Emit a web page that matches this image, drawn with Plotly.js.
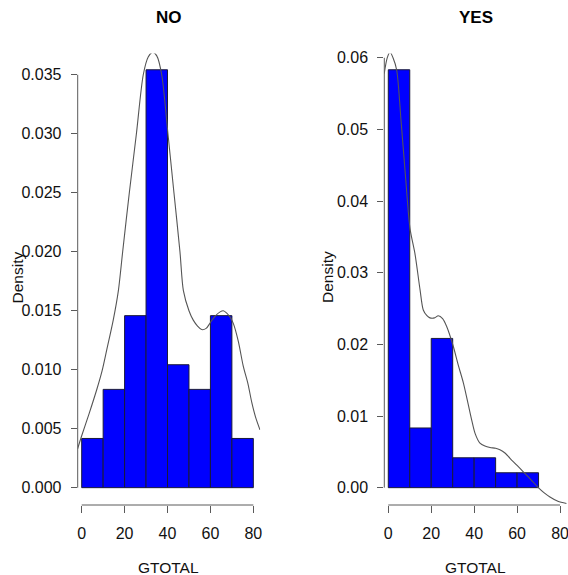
<!DOCTYPE html>
<html>
<head>
<meta charset="utf-8">
<script src="https://cdn.plot.ly/plotly-3.0.1.min.js"></script>
<style>html,body{margin:0;padding:0;background:#fff;}#chart{width:568px;height:575px;}</style>
</head>
<body>
<div id="chart"></div>
<script>
// ---- data ----
const binEdgesNO  = [0, 10, 20, 30, 40, 50, 60, 70, 80];
const binEdgesYES = [0, 10, 20, 30, 40, 50, 60, 70];
const densityNO  = [0.00417, 0.00833, 0.01458, 0.03542, 0.01042, 0.00833, 0.01458, 0.00417];
const densityYES = [0.05833, 0.00833, 0.02083, 0.00417, 0.00417, 0.00208, 0.00208];

const kdeNOx = [-1.9, 0, 3.5, 7, 9.5, 11.7, 14.7, 17.1, 19.1, 22.2, 25.5, 28.7, 31, 33, 35, 37.3, 40.2, 43, 45.8, 47.4, 50, 52, 54, 55.9, 58, 60, 62, 64.5, 66, 67.6, 69, 70.7, 73, 75.3, 77.5, 79.3, 81, 83.1];
const kdeNOy = [0.0033, 0.0044, 0.0063, 0.0083, 0.0099, 0.0117, 0.0142, 0.0167, 0.0200, 0.0250, 0.0300, 0.0350, 0.0365, 0.0369, 0.0366, 0.0350, 0.0300, 0.0250, 0.0200, 0.0167, 0.0150, 0.0142, 0.0137, 0.0134, 0.0135, 0.0140, 0.0145, 0.0149, 0.0150, 0.0148, 0.0145, 0.0139, 0.0124, 0.0103, 0.0088, 0.0072, 0.0060, 0.0049];

const kdeYESx = [-1.9, -0.5, 0.8, 2.2, 3.9, 6, 8, 10.1, 12.4, 14.8, 16.3, 18, 19.4, 21.5, 23.3, 25.3, 27.2, 30.3, 32.5, 35, 38.8, 40.5, 42.7, 45, 47.4, 50, 52, 54.5, 56.7, 60, 62.9, 66.5, 69.9, 72.5, 75.3, 79, 83];
const kdeYESy = [0.0578, 0.0600, 0.0608, 0.0600, 0.0583, 0.0510, 0.0435, 0.0362, 0.0327, 0.0276, 0.0248, 0.0240, 0.0237, 0.0237, 0.0240, 0.0236, 0.0225, 0.0197, 0.0172, 0.0146, 0.0095, 0.0075, 0.0062, 0.0058, 0.0056, 0.0055, 0.0053, 0.0048, 0.0041, 0.0031, 0.0022, 0.0011, 0.0000, -0.0007, -0.0013, -0.0019, -0.0022];

const xTicks = [0, 20, 40, 60, 80];
const yTicksNO  = [0, 0.005, 0.010, 0.015, 0.020, 0.025, 0.030, 0.035];
const yTicksYES = [0, 0.01, 0.02, 0.03, 0.04, 0.05, 0.06];
const panelTitles = ['NO', 'YES'];
const xTitle = 'GTOTAL';
const yTitle = 'Density';

// ---- build ----
function midsOf(e) { return e.slice(0, -1).map((v, i) => (v + e[i + 1]) / 2); }
function widthsOf(e) { return e.slice(0, -1).map((v, i) => e[i + 1] - v); }

const FONT = 'Liberation Sans, Arial, Helvetica, sans-serif';
const AX = '#5a5a5a';
const TXT = '#111111';

function bars(edges, y, xa, ya) {
  return {type: 'bar', x: midsOf(edges), y: y, width: widthsOf(edges), xaxis: xa, yaxis: ya,
    marker: {color: '#0000FF', line: {color: '#1a1a3a', width: 1}}, hoverinfo: 'skip'};
}
function curve(x, y, xa, ya) {
  return {type: 'scatter', mode: 'lines', x: x, y: y, xaxis: xa, yaxis: ya,
    line: {color: '#555555', width: 1.1, shape: 'spline', smoothing: 0.8}, hoverinfo: 'skip'};
}

const data = [
  bars(binEdgesNO, densityNO, 'x', 'y'), curve(kdeNOx, kdeNOy, 'x', 'y'),
  bars(binEdgesYES, densityYES, 'x2', 'y2'), curve(kdeYESx, kdeYESy, 'x2', 'y2')
];

const W = 568, H = 575;
const yDom = [1 - 505 / H, 1 - 53.5 / H];

function xaxis(dom, anchor) {
  return {domain: dom, anchor: anchor, range: [-1.86, 83.2], tickvals: xTicks,
    ticks: 'outside', ticklen: 7, tickwidth: 1, tickcolor: AX, showline: false,
    showgrid: false, zeroline: false, ticklabelstandoff: 7, ticklabeloverflow: 'allow',
    tickfont: {family: FONT, size: 16, color: TXT}, fixedrange: true};
}
function yaxis(dom, anchor, range, ticks, fmt) {
  return {domain: dom, anchor: anchor, range: range, tickvals: ticks, tickformat: fmt,
    ticks: 'outside', ticklen: 6, tickwidth: 1, tickcolor: AX, showline: false,
    showgrid: false, zeroline: false, ticklabelstandoff: 6, ticklabeloverflow: 'allow',
    tickfont: {family: FONT, size: 16, color: TXT}, fixedrange: true};
}

const shapes = [];
[['x', 'y', yTicksNO], ['x2', 'y2', yTicksYES]].forEach(([xa, ya, yt]) => {
  shapes.push({type: 'line', xref: xa + ' domain', x0: 0, x1: 0, yref: ya,
    y0: yt[0], y1: yt[yt.length - 1], line: {color: AX, width: 1}});
  shapes.push({type: 'line', xref: xa, x0: xTicks[0], x1: xTicks[xTicks.length - 1],
    yref: ya + ' domain', y0: 0, y1: 0, line: {color: AX, width: 1}});
});

const annotations = [];
[['x', 17], ['x2', 327.5]].forEach(([xa, dx], i) => {
  annotations.push({text: '<b>' + panelTitles[i] + '</b>', xref: xa + ' domain', x: 0.5,
    yref: 'paper', y: 1 - 18 / H, xanchor: 'center', yanchor: 'middle', showarrow: false,
    font: {family: FONT, size: 17, color: '#000'}});
  annotations.push({text: xTitle, xref: xa + ' domain', x: 0.5, yref: 'paper', y: 1 - 567 / H,
    xanchor: 'center', yanchor: 'middle', showarrow: false,
    font: {family: FONT, size: 15.5, color: TXT}});
  annotations.push({text: yTitle, xref: 'paper', x: dx / W, yref: 'paper', y: 1 - 277.5 / H,
    xanchor: 'center', yanchor: 'middle', textangle: -90, showarrow: false,
    font: {family: FONT, size: 15.5, color: TXT}});
});

const layout = {
  width: W, height: H, margin: {l: 0, r: 0, t: 0, b: 0},
  paper_bgcolor: '#fff', plot_bgcolor: 'rgba(0,0,0,0)', showlegend: false, hovermode: false,
  bargap: 0,
  xaxis: xaxis([77.7 / W, 260.2 / W], 'y'),
  yaxis: yaxis(yDom, 'x', [-0.00147, 0.0368], yTicksNO, '.3f'),
  xaxis2: xaxis([384.3 / W, 566.9 / W], 'y2'),
  yaxis2: yaxis(yDom, 'x2', [-0.00242, 0.0606], yTicksYES, '.2f'),
  shapes: shapes, annotations: annotations
};

Plotly.newPlot('chart', data, layout, {staticPlot: true, displayModeBar: false});
</script>
</body>
</html>
